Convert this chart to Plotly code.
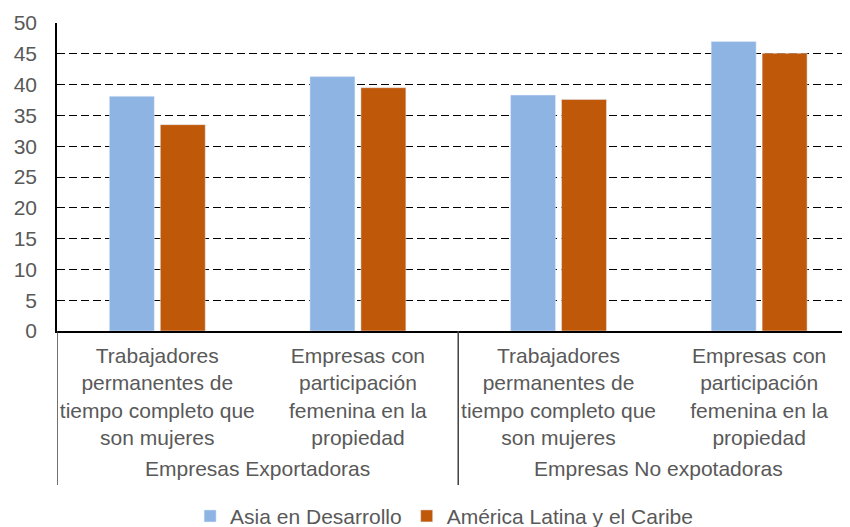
import plotly.graph_objects as go

categories = [
    "Trabajadores<br>permanentes de<br>tiempo completo que<br>son mujeres",
    "Empresas con<br>participación<br>femenina en la<br>propiedad",
    "Trabajadores<br>permanentes de<br>tiempo completo que<br>son mujeres",
    "Empresas con<br>participación<br>femenina en la<br>propiedad",
]
groups = ["Empresas Exportadoras", "Empresas No expotadoras"]
asia = [38.1, 41.3, 38.3, 47.0]
latam = [33.5, 39.5, 37.6, 45.1]
series_names = ["Asia en Desarrollo", "América Latina y el Caribe"]
yticks = [0, 5, 10, 15, 20, 25, 30, 35, 40, 45, 50]

TXT = "#595959"
FONT = "Liberation Sans, Arial, sans-serif"
xpos = list(range(len(categories)))

fig = go.Figure()
fig.add_trace(go.Bar(x=xpos, y=asia, name=series_names[0], marker_color="#8EB4E3"))
fig.add_trace(go.Bar(x=xpos, y=latam, name=series_names[1], marker_color="#C0580A"))

# page body adds an 8px margin, so the figure is drawn 8px smaller
fig.update_layout(
    width=842, height=519,
    margin=dict(l=49, r=3, t=15, b=196, autoexpand=False),
    paper_bgcolor="white", plot_bgcolor="white",
    barmode="group", bargap=0.492, bargroupgap=0.118,
    font=dict(family=FONT, size=21, color=TXT),
    showlegend=True,
    legend=dict(orientation="h", x=0.49, xanchor="center", y=-0.535, yanchor="top",
                font=dict(size=21, color=TXT), itemwidth=30, traceorder="normal"),
)
fig.update_yaxes(range=[0, 50], tickvals=yticks, showgrid=True, gridcolor="black",
                 griddash="8px,4px", gridwidth=1, showline=True, linecolor="black",
                 linewidth=1.5, zeroline=False, ticks="outside", ticklen=14,
                 tickcolor="rgba(0,0,0,0)", tickfont=dict(size=21, color=TXT),
                 automargin=False)
fig.update_xaxes(range=[-0.5, 3.438], tickvals=xpos, ticktext=categories,
                 showgrid=False, showline=True, linecolor="black", linewidth=1.5,
                 ticks="outside", ticklen=5, tickcolor="rgba(0,0,0,0)",
                 tickfont=dict(size=21, color=TXT), automargin=False)

# group separators
for xs in [-0.5, 1.5, 3.5]:
    fig.add_shape(type="line", xref="x", yref="paper", x0=xs, x1=xs, y0=0, y1=-0.5,
                  line=dict(color="#404040", width=1.5))
for i, g in enumerate(groups):
    fig.add_annotation(x=2 * i + 0.5, xref="x", y=-0.445, yref="paper", text=g,
                       showarrow=False, yanchor="middle",
                       font=dict(size=21, color=TXT))

fig.write_html("out.html")
